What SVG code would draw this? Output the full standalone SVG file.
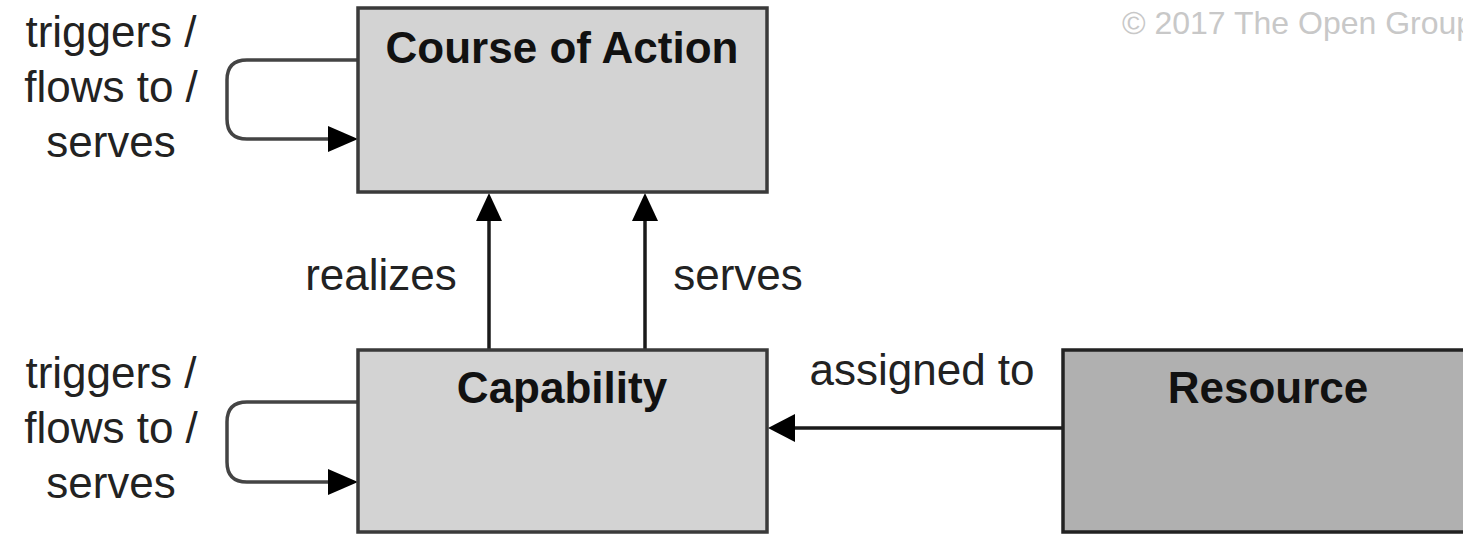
<svg xmlns="http://www.w3.org/2000/svg" width="1463" height="535" viewBox="0 0 1463 535">
<style>
.box{fill:#d3d3d3;stroke:#3a3a3a;stroke-width:3.5}
.res{fill:#b0b0b0;stroke:#222;stroke-width:3.5}
.title{font-family:"Liberation Sans",Arial,sans-serif;font-weight:bold;font-size:44px;fill:#111;text-anchor:middle}
.lbl{font-family:"Liberation Sans",Arial,sans-serif;font-size:44px;fill:#222;text-anchor:middle}
.copy{font-family:"Liberation Sans",Arial,sans-serif;font-size:32px;fill:#c8c8c8}
.line{fill:none;stroke:#1a1a1a;stroke-width:3.5}
.loop{fill:none;stroke:#444;stroke-width:3.5}
.head{fill:#000}
</style>
<rect width="1463" height="535" fill="#fff"/>
<text class="copy" x="1122" y="34">© 2017 The Open Group</text>
<g id="connectors">
  <path class="loop" d="M357,60 H247 Q227,60 227,80 V119 Q227,139 247,139 H330"/>
  <polygon class="head" points="358,139 328,126 328,152"/>
  <text class="lbl" x="111" y="47">triggers /</text>
  <text class="lbl" x="111" y="102">flows to /</text>
  <text class="lbl" x="111" y="157">serves</text>
  <path class="loop" d="M357,402 H247 Q227,402 227,422 V462 Q227,482 247,482 H330"/>
  <polygon class="head" points="358,482 328,469 328,495"/>
  <text class="lbl" x="111" y="388">triggers /</text>
  <text class="lbl" x="111" y="443">flows to /</text>
  <text class="lbl" x="111" y="498">serves</text>
  <line class="line" x1="489" y1="350" x2="489" y2="218"/>
  <polygon class="head" points="489,193 476,221 502,221"/>
  <text class="lbl" x="381" y="290">realizes</text>
  <line class="line" x1="645" y1="350" x2="645" y2="218"/>
  <polygon class="head" points="645,193 632,221 658,221"/>
  <text class="lbl" x="738" y="290">serves</text>
  <line class="line" x1="1063" y1="428" x2="792" y2="428"/>
  <polygon class="head" points="768,428 795,414 795,442"/>
  <text class="lbl" x="922" y="385">assigned to</text>
</g>
<g id="course-of-action">
  <rect class="box" x="358" y="8" width="409" height="184"/>
  <text class="title" x="562" y="63">Course of Action</text>
</g>
<g id="capability">
  <rect class="box" x="358" y="350" width="409" height="182"/>
  <text class="title" x="562" y="403">Capability</text>
</g>
<g id="resource">
  <rect class="res" x="1063" y="350" width="409" height="182"/>
  <text class="title" x="1268" y="403">Resource</text>
</g>
</svg>
